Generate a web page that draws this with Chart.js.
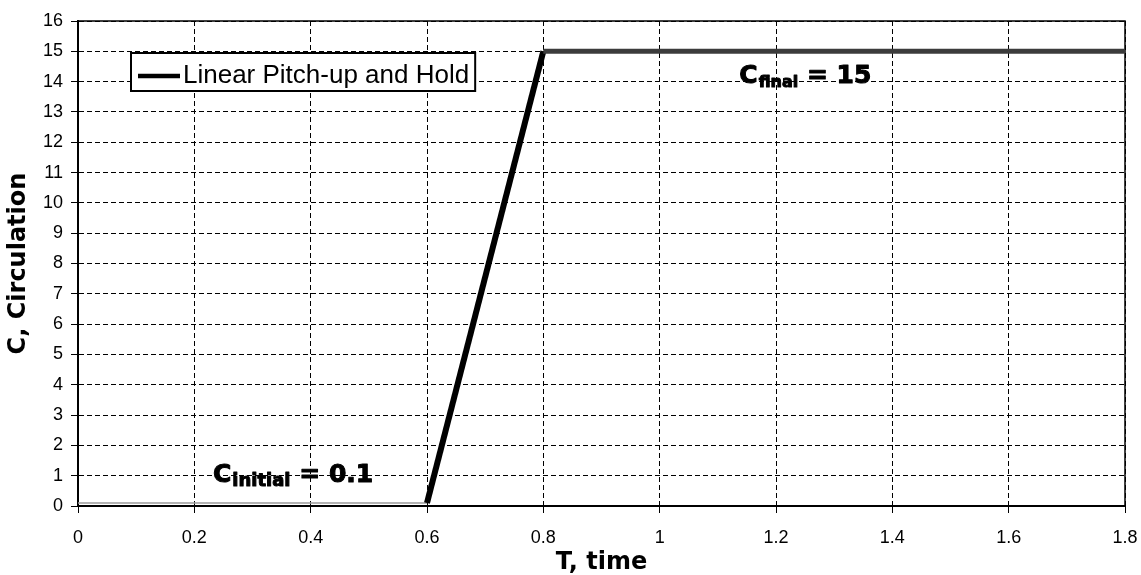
<!DOCTYPE html>
<html>
<head>
<meta charset="utf-8">
<title>Circulation vs time</title>
<script src="https://cdn.jsdelivr.net/npm/chart.js@4.4.1/dist/chart.umd.min.js"></script>
<style>
	html, body { margin: 0; padding: 0; background: #fff; }
</style>
</head>
<body>
<canvas id="circ" width="1141" height="575"></canvas>
<script>
// circulation history: ramp from the initial to the final value, then hold
const timeValues = [0, 0.6, 0.8, 1.8];
const circulation = [0.1, 0.1, 15, 15];
const seriesName = 'Linear Pitch-up and Hold';

const xTicks = [0, 0.2, 0.4, 0.6, 0.8, 1, 1.2, 1.4, 1.6, 1.8];
const yTicks = [0, 1, 2, 3, 4, 5, 6, 7, 8, 9, 10, 11, 12, 13, 14, 15, 16];

// value notes written on the plot (anchor in data units, left/baseline)
const noteSub = ['initial', 'final'];
const noteValue = [0.1, 15];
const noteAtT = [0.232, 1.137];
const noteAtC = [0.79, 13.95];
const noteSize = [25, 25];
const noteSubSize = [18, 16];

(function(){
	const TICK_FONT = { family: '"Liberation Sans", Arial, sans-serif', size: 18 };
	const TITLE_FONT = { family: '"DejaVu Sans", sans-serif', size: 24, weight: 'bold', lineHeight: 1 };

	// light run at the start, heavy ramp, dark hold
	const segColor = ['#9a9a9a', '#000000', '#3c3c3c'];
	const segWidth = [1.5, 6, 5];

	const frame = {
		id: 'frame',
		beforeDatasetsDraw(chart){
			const { ctx, chartArea: a } = chart;
			ctx.save();
			ctx.strokeStyle = '#000';
			ctx.lineWidth = 1.5;
			ctx.strokeRect(a.left, a.top, a.right - a.left, a.bottom - a.top);
			ctx.restore();
		}
	};

	// text drawn twice (fill + thin stroke) so it reads as heavy
	function heavyText(ctx, s, x, y){
		ctx.fillText(s, x, y);
		ctx.strokeText(s, x, y);
	}

	const notes = {
		id: 'notes',
		afterDatasetsDraw(chart){
			const { ctx, scales: { x, y } } = chart;
			ctx.save();
			ctx.fillStyle = '#000';
			ctx.strokeStyle = '#000';
			ctx.lineWidth = 1;
			ctx.lineJoin = 'round';
			ctx.textBaseline = 'alphabetic';
			noteSub.forEach((sub, i) => {
				let px = x.getPixelForValue(noteAtT[i]);
				const py = y.getPixelForValue(noteAtC[i]);
				const big = `bold ${noteSize[i]}px "DejaVu Sans", sans-serif`;
				const small = `bold ${noteSubSize[i]}px "DejaVu Sans", sans-serif`;
				ctx.font = big;
				heavyText(ctx, 'C', px, py);
				px += ctx.measureText('C').width + 1;
				ctx.font = small;
				heavyText(ctx, sub, px, py + 4);
				px += ctx.measureText(sub).width;
				ctx.font = big;
				heavyText(ctx, ` = ${noteValue[i]}`, px, py);
			});
			ctx.restore();
		}
	};

	const boxLegend = {
		id: 'boxLegend',
		afterDatasetsDraw(chart, args, o){
			const { ctx, chartArea: a } = chart;
			const label = chart.data.datasets[0].label;
			const x = a.left + o.dx, y = a.top + o.dy;
			ctx.save();
			ctx.font = o.font;
			const tw = ctx.measureText(label).width;
			const w = o.padL + o.sample + o.gap + tw + o.padR;
			ctx.fillStyle = '#fff';
			ctx.fillRect(x, y, w, o.h);
			ctx.strokeStyle = '#000';
			ctx.lineWidth = 2;
			ctx.strokeRect(x, y, w, o.h);
			ctx.lineWidth = 4.5;
			ctx.beginPath();
			ctx.moveTo(x + o.padL, y + 23);
			ctx.lineTo(x + o.padL + o.sample, y + 23);
			ctx.stroke();
			ctx.fillStyle = '#000';
			ctx.textBaseline = 'alphabetic';
			ctx.fillText(label, x + o.padL + o.sample + o.gap, y + 30);
			ctx.restore();
		}
	};

	new Chart(document.getElementById('circ'), {
		type: 'line',
		data: {
			datasets: [{
				label: seriesName,
				data: timeValues.map((t, i) => ({ x: t, y: circulation[i] })),
				borderColor: '#000',
				borderWidth: 5,
				pointRadius: 0,
				tension: 0,
				fill: false,
				segment: {
					borderColor: c => segColor[c.p0DataIndex],
					borderWidth: c => segWidth[c.p0DataIndex]
				}
			}]
		},
		options: {
			responsive: false,
			animation: false,
			layout: { padding: { top: 21, right: 16, left: 0, bottom: 0 } },
			plugins: {
				legend: { display: false },
				tooltip: { enabled: false },
				boxLegend: { dx: 53, dy: 32, h: 38, padL: 7, sample: 42, gap: 3, padR: 6, font: '26px "Liberation Sans", Arial, sans-serif' }
			},
			scales: {
				x: {
					type: 'linear',
					min: 0, max: 1.8,
					afterBuildTicks: s => { s.ticks = xTicks.map(v => ({ value: v })); },
					afterFit: s => { s.height = 69; s.paddingLeft = 0; s.paddingRight = 0; },
					ticks: {
						color: '#000', font: TICK_FONT, padding: 14, maxRotation: 0,
						callback: v => String(Number(v.toFixed(1)))
					},
					grid: { color: '#000', lineWidth: 1, tickLength: 7, tickColor: '#000', tickBorderDash: [] },
					border: { color: '#000', width: 2, dash: [5, 3] },
					title: { display: true, text: 'T, time', color: '#000', font: TITLE_FONT, padding: { top: 0, bottom: 0 } }
				},
				y: {
					min: 0, max: 16,
					afterBuildTicks: s => { s.ticks = yTicks.map(v => ({ value: v })); },
					afterFit: s => { s.width = 78; },
					ticks: { color: '#000', font: TICK_FONT, padding: 8 },
					grid: { color: '#000', lineWidth: 1, tickLength: 7, tickColor: '#000', tickBorderDash: [] },
					border: { color: '#000', width: 2, dash: [5, 3] },
					title: { display: true, text: 'C, Circulation', color: '#000', font: TITLE_FONT, padding: { top: 7, bottom: 0 } }
				}
			}
		},
		plugins: [frame, notes, boxLegend]
	});
})();
</script>
</body>
</html>
